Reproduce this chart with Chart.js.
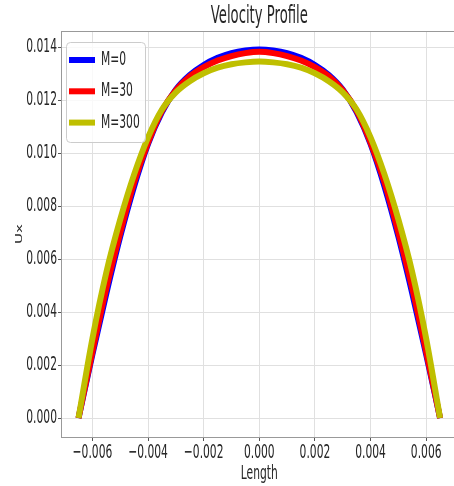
<!DOCTYPE html>
<html>
<head>
  <title>Velocity Profile</title>
  <script src="https://cdn.jsdelivr.net/npm/chart.js"></script>
  <style>
    html, body {
      margin: 0;
      padding: 0;
      overflow: hidden;
      background: #fff;
    }
    canvas {
      display: block;
    }
  </style>
</head>
<body>
  <canvas id="profileChart" width="462" height="486"></canvas>

  <script>
    // positions across the channel
    const lengths = [-0.0065, -0.006, -0.0055, -0.005, -0.0045, -0.004, -0.0035, -0.003, -0.0025, -0.002, -0.0015, -0.001, -0.0005,
      0, 0.0005, 0.001, 0.0015, 0.002, 0.0025, 0.003, 0.0035, 0.004, 0.0045, 0.005, 0.0055, 0.006, 0.0065];

    // Ux for each Hartmann number
    const uxM0 = [0, 0.00240, 0.00470, 0.00685, 0.00875, 0.01035, 0.01155, 0.01240, 0.01295, 0.01333, 0.01360, 0.01378, 0.01388,
      0.01392, 0.01388, 0.01378, 0.01360, 0.01333, 0.01295, 0.01240, 0.01155, 0.01035, 0.00875, 0.00685, 0.00470, 0.00240, 0];
    const uxM30 = [0, 0.00250, 0.00490, 0.00700, 0.00890, 0.01040, 0.01160, 0.01238, 0.01290, 0.01325, 0.01350, 0.01367, 0.01378,
      0.01383, 0.01378, 0.01367, 0.01350, 0.01325, 0.01290, 0.01238, 0.01160, 0.01040, 0.00890, 0.00700, 0.00490, 0.00250, 0];
    const uxM300 = [0, 0.00300, 0.00550, 0.00750, 0.00920, 0.01060, 0.01165, 0.01230, 0.01272, 0.01302, 0.01323, 0.01336, 0.01343,
      0.01346, 0.01343, 0.01336, 0.01323, 0.01302, 0.01272, 0.01230, 0.01165, 0.01060, 0.00920, 0.00750, 0.00550, 0.00300, 0];

    const seriesLabels = ['M=0', 'M=30', 'M=300'];
    const seriesColors = ['#0000ff', '#ff0000', '#bfbf00'];

    const xTicks = [-0.006, -0.004, -0.002, 0, 0.002, 0.004, 0.006];
    const yTicks = [0, 0.002, 0.004, 0.006, 0.008, 0.01, 0.012, 0.014];

    const textColor = '#262626';
    const squeeze = 0.55; // the lettering in the source picture is narrow

    const canvas = document.getElementById('profileChart');
    const ctx = canvas.getContext('2d');

    // narrow every piece of text horizontally around its anchor point
    const rawFillText = ctx.fillText.bind(ctx);
    const rawMeasureText = ctx.measureText.bind(ctx);
    ctx.fillText = function (text, x, y) {
      const m = ctx.getTransform();
      const p = m.transformPoint(new DOMPoint(x, y));
      ctx.save();
      ctx.setTransform(new DOMMatrix().translate(p.x, p.y).scale(squeeze, 1).translate(-p.x, -p.y).multiply(m));
      rawFillText(text, x, y);
      ctx.restore();
    };
    ctx.measureText = function (text) {
      const r = rawMeasureText(text);
      return {
        width: r.width * squeeze,
        actualBoundingBoxAscent: r.actualBoundingBoxAscent,
        actualBoundingBoxDescent: r.actualBoundingBoxDescent
      };
    };

    const frame = {
      id: 'frame',
      afterDraw(chart) {
        const { left, right, top, bottom } = chart.chartArea;
        const c = chart.ctx;
        c.save();
        c.strokeStyle = '#999';
        c.lineWidth = 1;
        c.beginPath();
        c.moveTo(left, top + 0.5);
        c.lineTo(right, top + 0.5);
        c.moveTo(left, bottom + 0.5);
        c.lineTo(right, bottom + 0.5);
        c.moveTo(left + 0.5, top);
        c.lineTo(left + 0.5, bottom);
        c.moveTo(right - 0.5, top);
        c.lineTo(right - 0.5, bottom);
        c.stroke();

        // legend box in the upper left corner
        const bx = left + 5, by = top + 11, bw = 79, bh = 100;
        c.fillStyle = 'rgba(255,255,255,0.8)';
        c.strokeStyle = '#cccccc';
        c.beginPath();
        if (c.roundRect) c.roundRect(bx + 0.5, by + 0.5, bw, bh, 4);
        else c.rect(bx + 0.5, by + 0.5, bw, bh);
        c.fill();
        c.stroke();

        c.font = '19.5px "DejaVu Sans"';
        c.textAlign = 'left';
        c.textBaseline = 'middle';
        chart.data.datasets.forEach((ds, i) => {
          const rowY = by + 18 + i * 31.3;
          c.strokeStyle = ds.borderColor;
          c.lineWidth = 6;
          c.lineCap = 'butt';
          c.beginPath();
          c.moveTo(left + 8, rowY);
          c.lineTo(left + 34, rowY);
          c.stroke();
          c.fillStyle = textColor;
          c.fillText(ds.label, left + 40, rowY);
        });
        c.restore();
      }
    };

    const seriesData = [uxM0, uxM30, uxM300];

    new Chart(ctx, {
      type: 'line',
      data: {
        datasets: seriesData.map((ys, i) => ({
          label: seriesLabels[i],
          data: lengths.map((x, j) => ({ x: x, y: ys[j] })),
          borderColor: seriesColors[i],
          backgroundColor: seriesColors[i],
          borderWidth: 6,
          pointRadius: 0,
          fill: false,
          cubicInterpolationMode: 'monotone',
          order: 3 - i
        }))
      },
      options: {
        responsive: false,
        animation: false,
        events: [],
        layout: { padding: { left: 0, top: 0, bottom: 0, right: 4.4 } },
        font: { family: '"DejaVu Sans"' },
        plugins: {
          legend: { display: false },
          tooltip: { enabled: false },
          title: {
            display: true,
            text: 'Velocity Profile',
            fullSize: false,
            color: textColor,
            font: { family: '"DejaVu Sans"', size: 24, weight: 'normal' },
            padding: { top: 2, bottom: 0.2 }
          }
        },
        scales: {
          x: {
            type: 'linear',
            min: -0.00713,
            max: 0.00713,
            afterBuildTicks: s => { s.ticks = xTicks.map(v => ({ value: v })); },
            afterFit: s => { s.height = 49; s.paddingLeft = 0; s.paddingRight = 0; },
            border: { display: false },
            grid: { color: '#e0e0e0', lineWidth: 1, tickColor: '#555', tickLength: 4 },
            ticks: {
              color: textColor,
              font: { family: '"DejaVu Sans"', size: 19.5 },
              padding: 0,
              maxRotation: 0,
              autoSkip: false,
              callback: v => (v < 0 ? '\u2212' : '') + Math.abs(v).toFixed(3)
            },
            title: {
              display: true,
              text: 'Length',
              color: textColor,
              font: { family: '"DejaVu Sans"', size: 19.5 },
              padding: { top: 4, bottom: 0 }
            }
          },
          y: {
            type: 'linear',
            min: -0.000717,
            max: 0.014615,
            afterBuildTicks: s => { s.ticks = yTicks.map(v => ({ value: v })); },
            afterFit: s => { s.width = 61; s.paddingTop = 0; s.paddingBottom = 0; },
            border: { display: false },
            grid: { color: '#e0e0e0', lineWidth: 1, tickColor: '#555', tickLength: 3 },
            ticks: {
              color: textColor,
              font: { family: '"DejaVu Sans"', size: 19.5 },
              padding: 1,
              autoSkip: false,
              callback: v => v.toFixed(3)
            },
            title: {
              display: true,
              text: 'Ux',
              color: textColor,
              font: { family: '"DejaVu Sans"', size: 15 },
              padding: { top: 11, bottom: 0 }
            }
          }
        }
      },
      plugins: [frame]
    });
  </script>
</body>
</html>
